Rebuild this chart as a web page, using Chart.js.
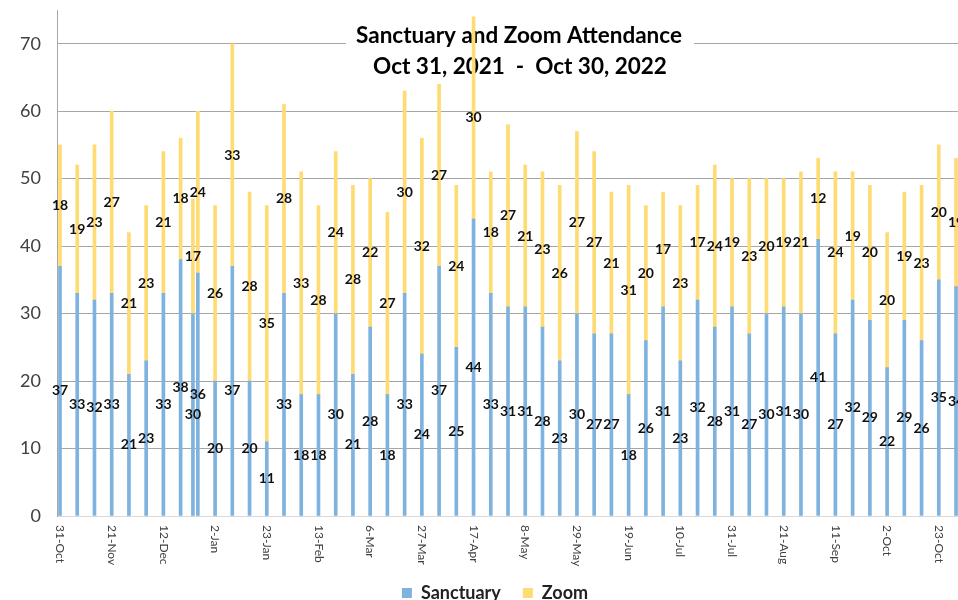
<!DOCTYPE html>
<html>
<head>
<meta charset="utf-8">
<script src="https://cdn.jsdelivr.net/npm/chart.js@4/dist/chart.umd.min.js"></script>
<style>
  html, body { margin: 0; padding: 0; background: #fff; overflow: hidden; }
  #wrap { position: relative; width: 1000px; height: 612px; }
</style>
</head>
<body>
<div id="wrap"><canvas id="attendance" width="1000" height="612"></canvas></div>
<script>
// service dates (Dec 24 is the Christmas Eve service)
const dates = [
  '2021-10-31', '2021-11-07', '2021-11-14', '2021-11-21', '2021-11-28', '2021-12-05', '2021-12-12', '2021-12-19', '2021-12-24', '2021-12-26',
  '2022-01-02', '2022-01-09', '2022-01-16', '2022-01-23', '2022-01-30', '2022-02-06', '2022-02-13', '2022-02-20', '2022-02-27',
  '2022-03-06', '2022-03-13', '2022-03-20', '2022-03-27', '2022-04-03', '2022-04-10', '2022-04-17', '2022-04-24',
  '2022-05-01', '2022-05-08', '2022-05-15', '2022-05-22', '2022-05-29', '2022-06-05', '2022-06-12', '2022-06-19', '2022-06-26',
  '2022-07-03', '2022-07-10', '2022-07-17', '2022-07-24', '2022-07-31', '2022-08-07', '2022-08-14', '2022-08-21', '2022-08-28',
  '2022-09-04', '2022-09-11', '2022-09-18', '2022-09-25', '2022-10-02', '2022-10-09', '2022-10-16', '2022-10-23', '2022-10-30'];
const sanctuary = [
  37, 33, 32, 33, 21, 23, 33, 38, 30, 36,
  20, 37, 20, 11, 33, 18, 18, 30, 21,
  28, 18, 33, 24, 37, 25, 44, 33,
  31, 31, 28, 23, 30, 27, 27, 18, 26,
  31, 23, 32, 28, 31, 27, 30, 31, 30,
  41, 27, 32, 29, 22, 29, 26, 35, 34];
const zoom = [
  18, 19, 23, 27, 21, 23, 21, 18, 17, 24,
  26, 33, 28, 35, 28, 33, 28, 24, 28,
  22, 27, 30, 32, 27, 24, 30, 18,
  27, 21, 23, 26, 27, 27, 21, 31, 20,
  17, 23, 17, 24, 19, 23, 20, 19, 21,
  12, 24, 19, 20, 20, 19, 23, 20, 19];
const tickDates = ['2021-10-31', '2021-11-21', '2021-12-12', '2022-01-02', '2022-01-23', '2022-02-13', '2022-03-06', '2022-03-27', '2022-04-17',
  '2022-05-08', '2022-05-29', '2022-06-19', '2022-07-10', '2022-07-31', '2022-08-21', '2022-09-11', '2022-10-02', '2022-10-23'];
const tickLabels = ['31-Oct', '21-Nov', '12-Dec', '2-Jan', '23-Jan', '13-Feb', '6-Mar', '27-Mar', '17-Apr',
  '8-May', '29-May', '19-Jun', '10-Jul', '31-Jul', '21-Aug', '11-Sep', '2-Oct', '23-Oct'];
const yTicks = [0, 10, 20, 30, 40, 50, 60, 70];

const dayOf = (d) => (Date.parse(d) - Date.parse(dates[0])) / 86400000;

// title drawn inside the plot, white box hides gridlines but bars go over it
const titlePlugin = {
  id: 'insideTitle',
  beforeDatasetsDraw(chart) {
    const ctx = chart.ctx;
    ctx.save();
    ctx.fillStyle = '#fff';
    ctx.fillRect(346, 22, 348, 60);
    ctx.fillStyle = '#000';
    ctx.font = 'bold 22.5px Lato';
    ctx.textAlign = 'center';
    ctx.textBaseline = 'middle';
    ctx.fillText('Sanctuary and Zoom Attendance', 519, 36);
    ctx.fillText('Oct 31, 2021  -  Oct 30, 2022', 520, 67);
    ctx.restore();
  },
};

// value labels in the middle of each segment
const labelPlugin = {
  id: 'segLabels',
  afterDatasetsDraw(chart) {
    const ctx = chart.ctx;
    ctx.save();
    ctx.font = 'bold 14px Lato';
    ctx.fillStyle = '#111';
    ctx.textAlign = 'center';
    ctx.textBaseline = 'middle';
    chart.data.datasets.forEach((ds, i) => {
      const meta = chart.getDatasetMeta(i);
      meta.data.forEach((bar, j) => {
        ctx.fillText(String(ds.data[j].y), bar.x, (bar.y + bar.base) / 2);
      });
    });
    ctx.restore();
  },
};

// date ticks, rotated to read top-to-bottom
const xTickPlugin = {
  id: 'xTicks',
  afterDraw(chart) {
    const sc = chart.scales.x;
    const ctx = chart.ctx;
    ctx.save();
    ctx.font = '12px Lato';
    ctx.fillStyle = '#404040';
    ctx.textAlign = 'left';
    ctx.textBaseline = 'middle';
    tickDates.forEach((d, i) => {
      ctx.save();
      ctx.translate(sc.getPixelForValue(dayOf(d)), chart.chartArea.bottom + 9);
      ctx.rotate(Math.PI / 2);
      ctx.fillText(tickLabels[i], 0, 0);
      ctx.restore();
    });
    ctx.restore();
  },
};

new Chart('attendance', {
  type: 'bar',
  data: {
    datasets: [
      {
        label: 'Sanctuary',
        data: dates.map((d, i) => ({ x: dayOf(d), y: sanctuary[i] })),
        backgroundColor: '#7eb3df',
        barThickness: 3,
      },
      {
        label: 'Zoom',
        data: dates.map((d, i) => ({ x: dayOf(d), y: zoom[i] })),
        backgroundColor: '#ffdb74',
        barThickness: 3,
      },
    ],
  },
  options: {
    responsive: false,
    animation: false,
    layout: { padding: { top: 10, right: 10, left: 0, bottom: 0 } },
    scales: {
      x: {
        type: 'linear',
        stacked: true,
        offset: false,
        min: -1.22,
        max: 377.8,
        grid: { display: false },
        border: { color: '#d9d9d9' },
        ticks: { display: false },
        afterFit: (s) => { s.height = 46; s.paddingLeft = 0; s.paddingRight = 0; },
      },
      y: {
        stacked: true,
        min: 0,
        max: 75,
        afterBuildTicks: (s) => { s.ticks = yTicks.map((v) => ({ value: v })); },
        grid: {
          drawTicks: false,
          color: (c) => (c.tick && c.tick.value === 0 ? 'rgba(0,0,0,0)' : '#a6a6a6'),
        },
        border: { color: '#a6a6a6' },
        ticks: { padding: 16, color: '#404040', font: { family: 'Lato', size: 18 } },
        afterFit: (s) => { s.width = 57; s.paddingTop = 0; s.paddingBottom = 0; },
      },
    },
    plugins: {
      legend: {
        position: 'bottom',
        labels: {
          boxWidth: 10,
          boxHeight: 10,
          padding: 22,
          color: '#222',
          font: { family: 'Lato', size: 18, weight: 'bold' },
        },
      },
      tooltip: { enabled: false },
    },
  },
  plugins: [titlePlugin, labelPlugin, xTickPlugin],
});
</script>
</body>
</html>
